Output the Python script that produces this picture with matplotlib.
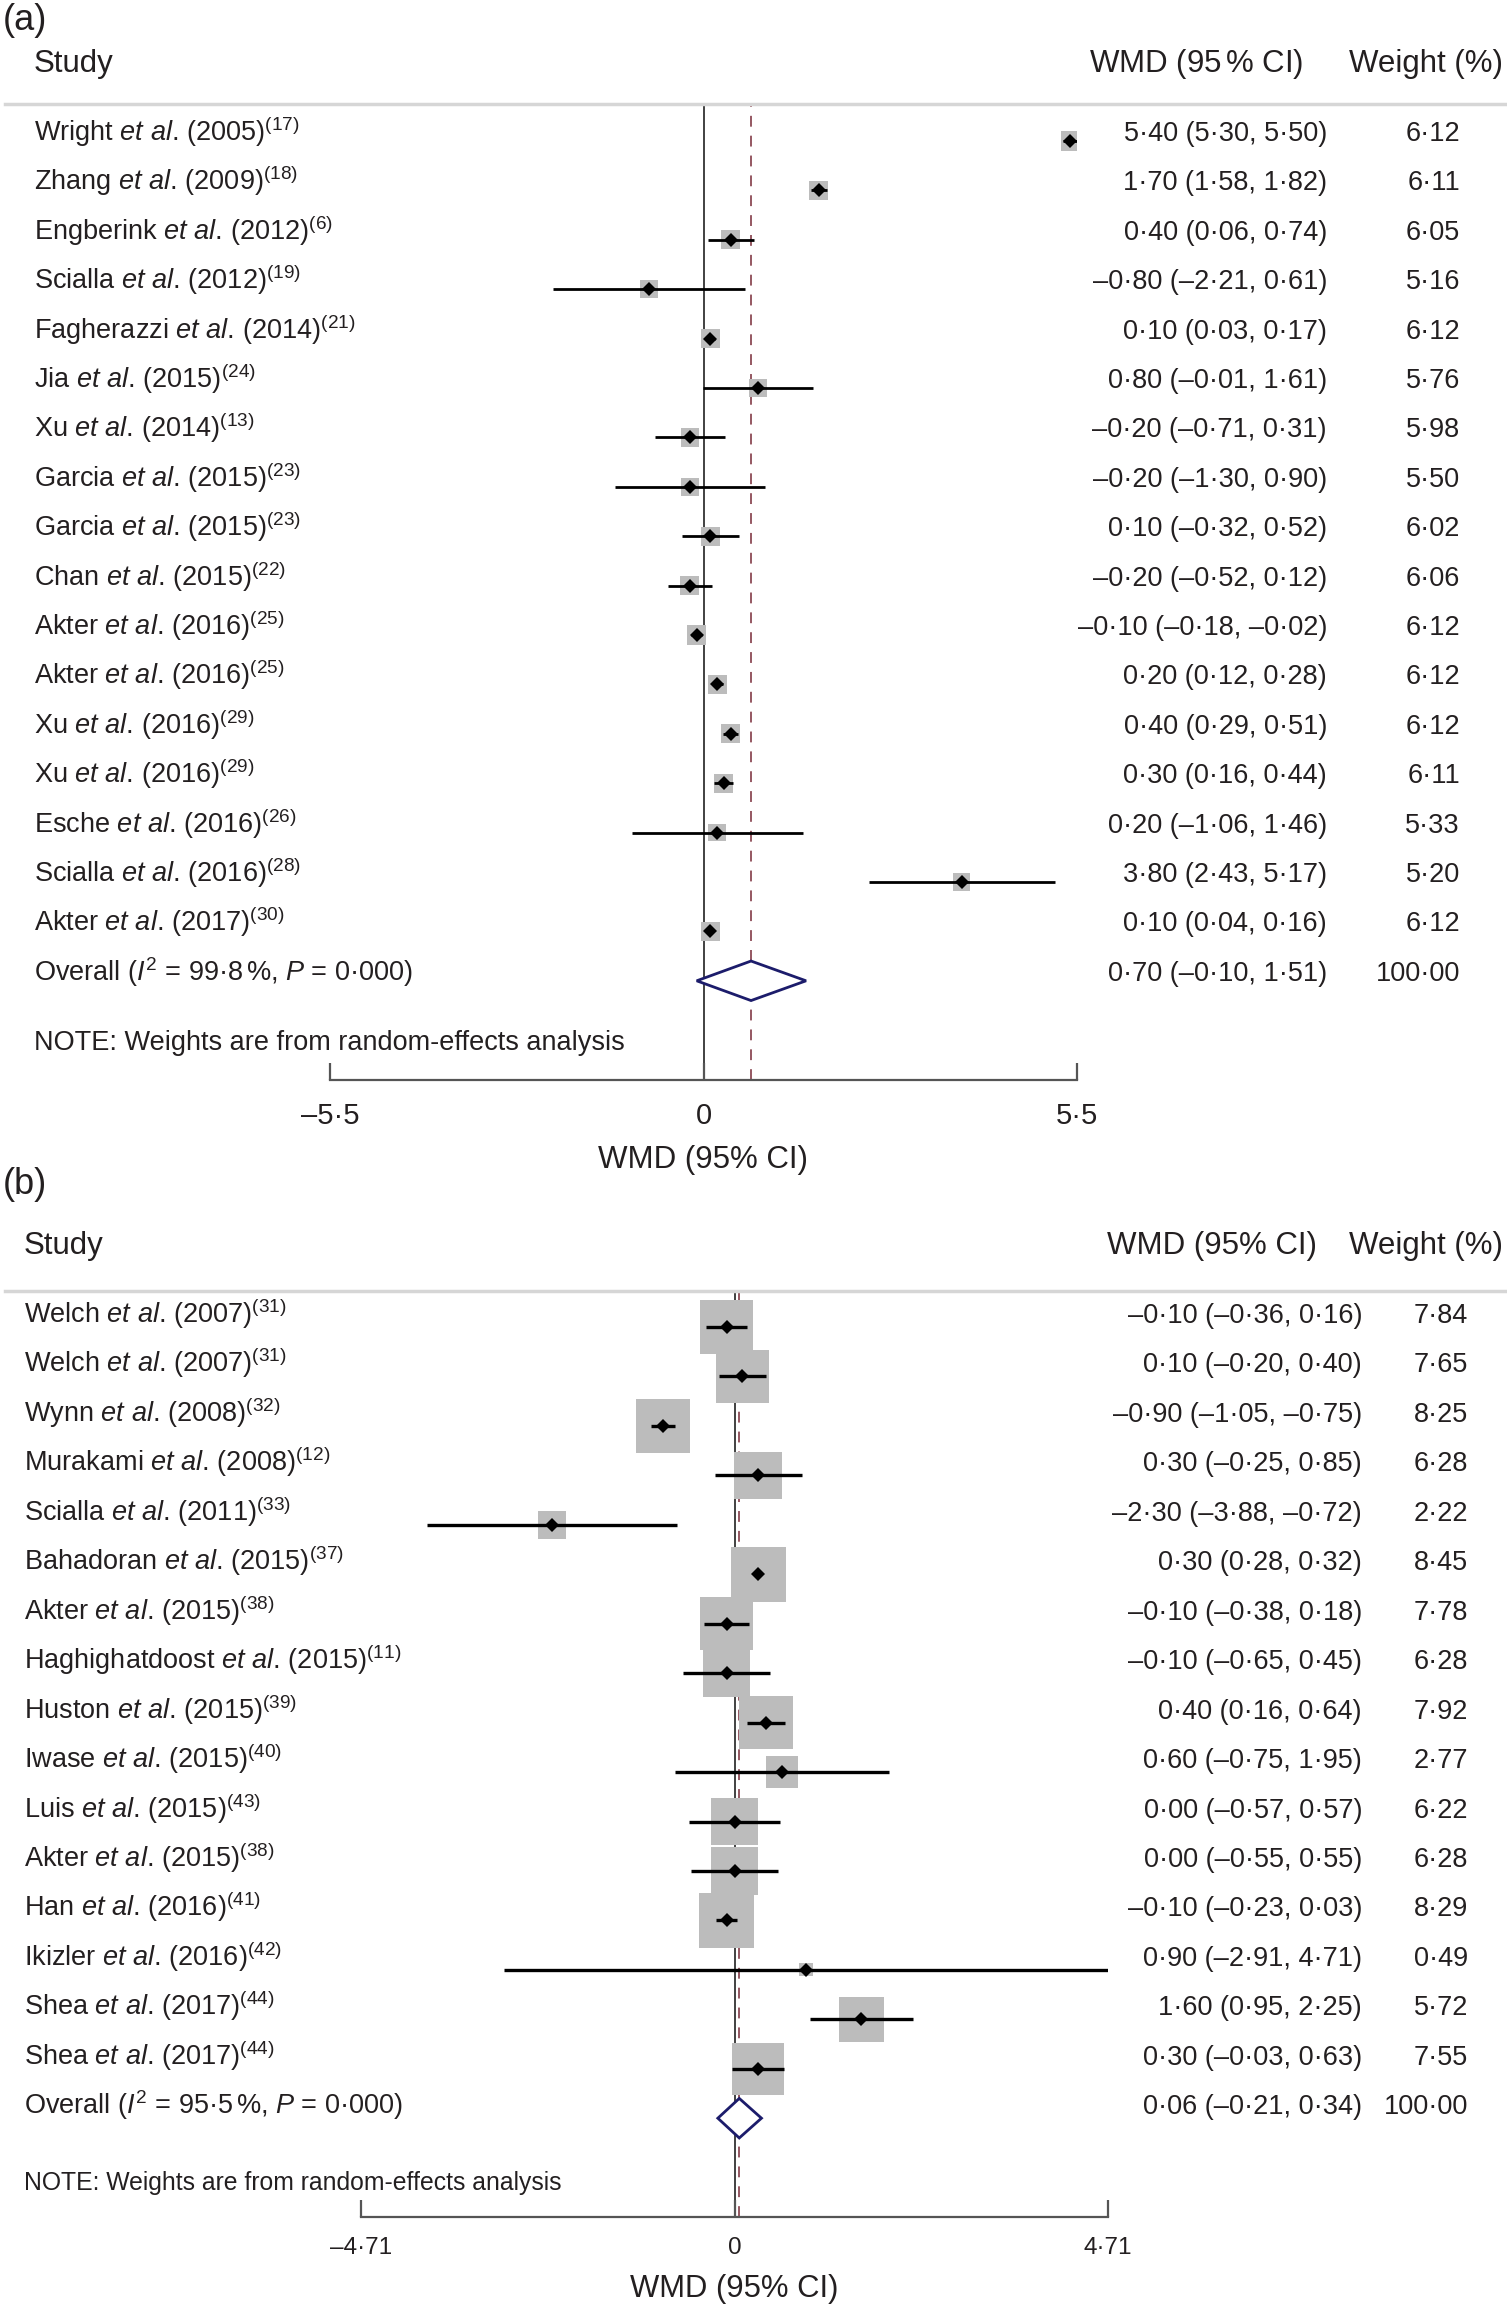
import numpy as np
import matplotlib
matplotlib.use('Agg')
import matplotlib.pyplot as plt
from matplotlib.transforms import blended_transform_factory as blend

plt.rcParams['font.family'] = ['Liberation Sans', 'DejaVu Sans']
plt.rcParams['mathtext.fontset'] = 'custom'
plt.rcParams['mathtext.rm'] = 'Liberation Sans'
plt.rcParams['mathtext.it'] = 'Liberation Sans:italic'
plt.rcParams['mathtext.bf'] = 'Liberation Sans:bold'

# ---- panel (a) data
names_a = ['Wright', 'Zhang', 'Engberink', 'Scialla', 'Fagherazzi', 'Jia', 'Xu', 'Garcia', 'Garcia',
           'Chan', 'Akter', 'Akter', 'Xu', 'Xu', 'Esche', 'Scialla', 'Akter']
years_a = [2005, 2009, 2012, 2012, 2014, 2015, 2014, 2015, 2015, 2015, 2016, 2016, 2016, 2016, 2016, 2016, 2017]
refs_a = [17, 18, 6, 19, 21, 24, 13, 23, 23, 22, 25, 25, 29, 29, 26, 28, 30]
wmd_a = [5.40, 1.70, 0.40, -0.80, 0.10, 0.80, -0.20, -0.20, 0.10, -0.20, -0.10, 0.20, 0.40, 0.30, 0.20, 3.80, 0.10]
lo_a = [5.30, 1.58, 0.06, -2.21, 0.03, -0.01, -0.71, -1.30, -0.32, -0.52, -0.18, 0.12, 0.29, 0.16, -1.06, 2.43, 0.04]
hi_a = [5.50, 1.82, 0.74, 0.61, 0.17, 1.61, 0.31, 0.90, 0.52, 0.12, -0.02, 0.28, 0.51, 0.44, 1.46, 5.17, 0.16]
wt_a = [6.12, 6.11, 6.05, 5.16, 6.12, 5.76, 5.98, 5.50, 6.02, 6.06, 6.12, 6.12, 6.12, 6.11, 5.33, 5.20, 6.12]
overall_a = [0.70, -0.10, 1.51]
i2_a = '99·8'
ticks_a = [-5.5, 0, 5.5]
ticklabels_a = ['–5·5', '0', '5·5']

# ---- panel (b) data
names_b = ['Welch', 'Welch', 'Wynn', 'Murakami', 'Scialla', 'Bahadoran', 'Akter', 'Haghighatdoost',
           'Huston', 'Iwase', 'Luis', 'Akter', 'Han', 'Ikizler', 'Shea', 'Shea']
years_b = [2007, 2007, 2008, 2008, 2011, 2015, 2015, 2015, 2015, 2015, 2015, 2015, 2016, 2016, 2017, 2017]
refs_b = [31, 31, 32, 12, 33, 37, 38, 11, 39, 40, 43, 38, 41, 42, 44, 44]
wmd_b = [-0.10, 0.10, -0.90, 0.30, -2.30, 0.30, -0.10, -0.10, 0.40, 0.60, 0.00, 0.00, -0.10, 0.90, 1.60, 0.30]
lo_b = [-0.36, -0.20, -1.05, -0.25, -3.88, 0.28, -0.38, -0.65, 0.16, -0.75, -0.57, -0.55, -0.23, -2.91, 0.95, -0.03]
hi_b = [0.16, 0.40, -0.75, 0.85, -0.72, 0.32, 0.18, 0.45, 0.64, 1.95, 0.57, 0.55, 0.03, 4.71, 2.25, 0.63]
wt_b = [7.84, 7.65, 8.25, 6.28, 2.22, 8.45, 7.78, 6.28, 7.92, 2.77, 6.22, 6.28, 8.29, 0.49, 5.72, 7.55]
overall_b = [0.06, -0.21, 0.34]
i2_b = '95·5'
ticks_b = [-4.71, 0, 4.71]
ticklabels_b = ['–4·71', '0', '4·71']

W, H = 1507, 2311
TXT = '#231f20'


def fx(px):
    return px / W


def fy(py):
    return 1 - py / H


def num(v):
    s = '%.2f' % abs(v)
    s = s.replace('.', '·')
    return ('–' + s) if v < 0 else s


def forest(fig, tag, names, years, refs, est, lo, hi, wt, overall, i2, ticks, ticklabels, L):
    n = len(names)
    ax = fig.add_axes([fx(L['x0']), fy(L['axis_y']), (L['x1'] - L['x0']) / W, (L['axis_y'] - L['rule_y']) / H])
    ax.set_xlim(ticks[0], ticks[-1])
    step = L['step']
    ax.set_ylim((L['axis_y'] - L['row0']) / step, -(L['row0'] - L['rule_y']) / step)
    for s in ['left', 'right', 'top']:
        ax.spines[s].set_visible(False)
    ax.spines['bottom'].set_color('#555555')
    ax.spines['bottom'].set_linewidth(1.6)
    ax.set_yticks([])
    ax.set_xticks(ticks)
    ax.set_xticklabels(ticklabels)
    ax.tick_params(axis='x', direction='in', length=12, width=1.6, color='#555555',
                   labelsize=L['tick_fs'], pad=L['tick_pad'], labelcolor=TXT)

    rows = np.arange(n)
    # vertical reference lines
    ax.axvline(0, color='#333333', lw=1.3, zorder=1)
    ax.axvline(overall[0], color='#8c4a55', lw=1.3, ls=(0, (6, 5)), zorder=1)

    # weight boxes, CI lines and point estimates
    side = L['box_k'] * np.sqrt(np.array(wt))
    ax.scatter(est, rows, s=(side / 1.389) ** 2, marker='s', color='#bcbcbc', linewidths=0, zorder=2)
    ax.hlines(rows, lo, hi, color='black', lw=L['ci_lw'], zorder=3)
    ax.plot(est, rows, 'D', color='black', ms=7.5, mew=0, zorder=4)

    # overall diamond
    ax.fill([overall[1], overall[0], overall[2], overall[0]], [n, n - 0.4, n, n + 0.4],
            facecolor='white', edgecolor='#1c1c6b', lw=2.0, zorder=4)

    tr = blend(fig.transFigure, ax.transData)
    dy = L['base_off'] / step
    fs = L['fs']
    for i in range(n):
        lab = names[i] + r' $\mathit{et\ al}$. (%d)$^{(%d)}$' % (years[i], refs[i])
        ax.text(fx(L['lab_x']), i - dy, lab, transform=tr, fontsize=fs, color=TXT, va='baseline')
        ax.text(fx(L['wmd_r']), i - dy, '%s (%s, %s)' % (num(est[i]), num(lo[i]), num(hi[i])),
                transform=tr, fontsize=fs, color=TXT, va='baseline', ha='right')
        ax.text(fx(L['wt_r']), i - dy, num(wt[i]), transform=tr, fontsize=fs, color=TXT,
                va='baseline', ha='right')
    ax.text(fx(L['lab_x']), n - dy, r'Overall ($I^2$ = ' + i2 + r'$\,$%, $P$ = 0·000)', transform=tr,
            fontsize=fs, color=TXT, va='baseline')
    ax.text(fx(L['wmd_r']), n - dy, '%s (%s, %s)' % (num(overall[0]), num(overall[1]), num(overall[2])),
            transform=tr, fontsize=fs, color=TXT, va='baseline', ha='right')
    ax.text(fx(L['wt_r']), n - dy, '100·00', transform=tr, fontsize=fs, color=TXT, va='baseline', ha='right')

    # headers, rule, notes
    hs = L['head_fs']
    fig.text(fx(3), fy(L['tag_y']), tag, fontsize=26, color=TXT, va='center')
    fig.text(fx(L['lab_x']), fy(L['head_y']), 'Study', fontsize=hs, color=TXT, va='baseline')
    fig.text(fx(L['hwmd_r']), fy(L['head_y']), L['hwmd'], fontsize=hs, color=TXT, va='baseline', ha='right')
    fig.text(fx(L['hwt_r']), fy(L['head_y']), 'Weight (%)', fontsize=hs, color=TXT, va='baseline', ha='right')
    rule = plt.Line2D([fx(5), fx(W)], [fy(L['rule_y']), fy(L['rule_y'])], transform=fig.transFigure,
                      color='#d6d6d6', lw=2.5)
    fig.add_artist(rule)
    fig.text(fx(L['lab_x']), fy(L['note_y']), 'NOTE: Weights are from random-effects analysis',
             fontsize=L['note_fs'], color=TXT, va='baseline')
    ax.text(0.5, fy(L['title_y']), 'WMD (95% CI)', transform=blend(ax.transAxes, fig.transFigure),
            fontsize=L['title_fs'], color=TXT, ha='center', va='center')
    return ax


fig = plt.figure(figsize=(W / 100, H / 100), dpi=100)

layout_a = dict(x0=330, x1=1077, rule_y=104, row0=141, step=49.4, axis_y=1080, tag_y=21, head_y=72,
                lab_x=34, wmd_r=1327, wt_r=1460, hwmd_r=1303, hwt_r=1503, hwmd=r'WMD (95$\,$% CI)',
                note_y=1050, title_y=1160, fs=19.5, head_fs=22.5, note_fs=19.5, tick_fs=21,
                title_fs=22.5, tick_pad=15.5, box_k=7.7, ci_lw=2.0, base_off=0)
layout_b = dict(x0=361, x1=1108, rule_y=1291, row0=1327, step=49.45, axis_y=2217, tag_y=1185, head_y=1254,
                lab_x=24, wmd_r=1362, wt_r=1468, hwmd_r=1317, hwt_r=1503, hwmd='WMD (95% CI)',
                note_y=2190, title_y=2289, fs=19.5, head_fs=22.5, note_fs=17.8, tick_fs=17.5,
                title_fs=22.3, tick_pad=14.5, box_k=19, ci_lw=2.4, base_off=4)

forest(fig, '(a)', names_a, years_a, refs_a, wmd_a, lo_a, hi_a, wt_a, overall_a, i2_a,
       ticks_a, ticklabels_a, layout_a)
forest(fig, '(b)', names_b, years_b, refs_b, wmd_b, lo_b, hi_b, wt_b, overall_b, i2_b,
       ticks_b, ticklabels_b, layout_b)

fig.savefig('out.png', dpi=100, facecolor='white')
